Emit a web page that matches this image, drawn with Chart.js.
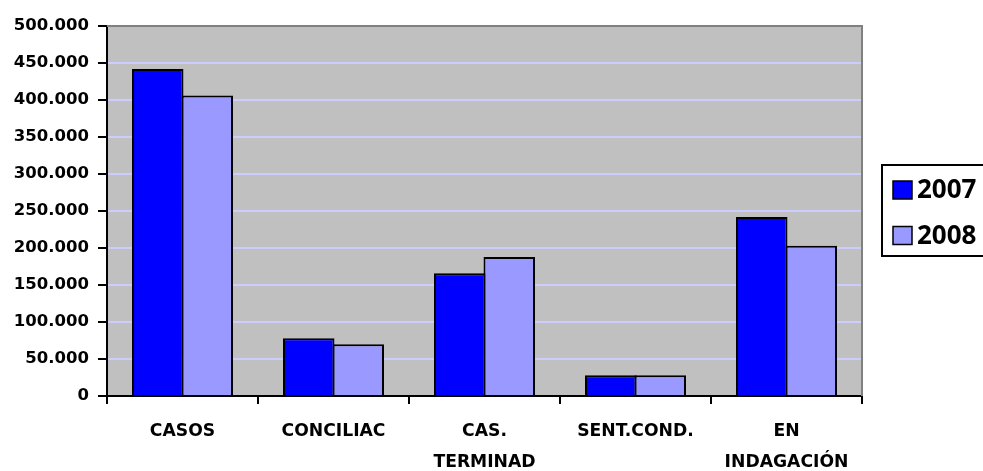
<!DOCTYPE html>
<html>
<head>
<meta charset="utf-8">
<script src="https://cdn.jsdelivr.net/npm/chart.js@4/dist/chart.umd.min.js"></script>
<style>
  html, body { margin: 0; padding: 0; background: #ffffff; }
  #wrap { width: 983px; height: 471px; }
</style>
</head>
<body>
<div id="wrap"><canvas id="c" width="983" height="471"></canvas></div>
<script>
// Categories and yearly totals
const categories = ['CASOS', 'CONCILIAC', ['CAS.', 'TERMINAD'], 'SENT.COND.', ['EN', 'INDAGACIÓN']];
const seriesNames = ['2007', '2008'];
const values2007 = [442000, 78000, 166000, 28000, 242000];
const values2008 = [406000, 70000, 188000, 28000, 203000];
const yTicks = [0, 50000, 100000, 150000, 200000, 250000, 300000, 350000, 400000, 450000, 500000];

const colors = ['#0000FF', '#9999FF'];
const legendFont = 'bold 26px "Noto Sans"';

// Thousands separated with a dot: 450000 -> "450.000"
function fmt(v) {
  return String(v).replace(/\B(?=(\d{3})+(?!\d))/g, '.');
}

// Gray plot background with gray top/right frame
const plotFrame = {
  id: 'plotFrame',
  beforeDraw(chart) {
    const { ctx, chartArea: a } = chart;
    ctx.save();
    ctx.fillStyle = '#C0C0C0';
    ctx.fillRect(a.left, a.top, a.right - a.left, a.bottom - a.top);
    ctx.restore();
  },
  afterDraw(chart) {
    const { ctx, chartArea: a } = chart;
    ctx.save();
    ctx.strokeStyle = '#808080';
    ctx.lineWidth = 2;
    ctx.beginPath();
    ctx.moveTo(a.left, a.top);
    ctx.lineTo(a.right, a.top);
    ctx.lineTo(a.right, a.bottom);
    ctx.stroke();
    ctx.restore();
  }
};

// Boxed legend at the right
const boxedLegend = {
  id: 'boxedLegend',
  afterDraw(chart) {
    const { ctx } = chart;
    const a = chart.chartArea;
    const x = a.right + 20, y = 165, w = 130, h = 91;
    ctx.save();
    ctx.fillStyle = '#ffffff';
    ctx.fillRect(x, y, w, h);
    ctx.strokeStyle = '#000000';
    ctx.lineWidth = 2;
    ctx.strokeRect(x, y, w, h);
    ctx.font = legendFont;
    ctx.textBaseline = 'middle';
    ctx.textAlign = 'left';
    chart.data.datasets.forEach((ds, i) => {
      const cy = y + 25 + i * 45.5;
      ctx.fillStyle = ds.backgroundColor;
      ctx.fillRect(x + 11, cy - 9, 19, 18);
      ctx.lineWidth = 1.5;
      ctx.strokeStyle = '#000000';
      ctx.strokeRect(x + 11, cy - 9, 19, 18);
      ctx.fillStyle = '#000000';
      ctx.fillText(ds.label, x + 35, cy + 1);
    });
    ctx.restore();
  }
};

function draw() {
  new Chart(document.getElementById('c'), {
    type: 'bar',
    data: {
      labels: categories,
      datasets: [
        { label: seriesNames[0], data: values2007, backgroundColor: colors[0], borderColor: '#000000', borderWidth: 2 },
        { label: seriesNames[1], data: values2008, backgroundColor: colors[1], borderColor: '#000000', borderWidth: 2 }
      ]
    },
    options: {
      responsive: false,
      animation: false,
      events: [],
      layout: { padding: { top: 26, right: 121, left: 0, bottom: 0 } },
      plugins: { legend: { display: false }, tooltip: { enabled: false } },
      // neighbouring bars overlap by their border so they share one edge
      datasets: { bar: { categoryPercentage: 0.6556, barPercentage: 1.0404 } },
      scales: {
        x: {
          offset: true,
          grid: { offset: true, drawOnChartArea: false, color: '#000000', tickColor: '#000000', lineWidth: 2, tickLength: 8 },
          border: { color: '#000000', width: 2 },
          ticks: {
            color: '#000000',
            font: { family: 'DejaVu Sans', weight: 'bold', size: 17.2, lineHeight: '31px' },
            padding: 12,
            maxRotation: 0,
            autoSkip: false
          },
          afterFit(scale) { scale.height = 75; }
        },
        y: {
          min: 0,
          max: 500000,
          afterBuildTicks(scale) { scale.ticks = yTicks.map(v => ({ value: v })); },
          grid: { color: '#CCCCFF', tickColor: '#000000', lineWidth: 2, tickLength: 9 },
          border: { color: '#000000', width: 2 },
          ticks: {
            color: '#000000',
            font: { family: 'DejaVu Sans', weight: 'bold', size: 16.5 },
            padding: 9,
            callback: (v) => fmt(v)
          },
          afterFit(scale) { scale.width = 107; }
        }
      }
    },
    plugins: [plotFrame, boxedLegend]
  });
}

Promise.all([
  document.fonts.load(legendFont),
  document.fonts.load('bold 16.5px "DejaVu Sans"')
]).then(draw, draw);
</script>
</body>
</html>
